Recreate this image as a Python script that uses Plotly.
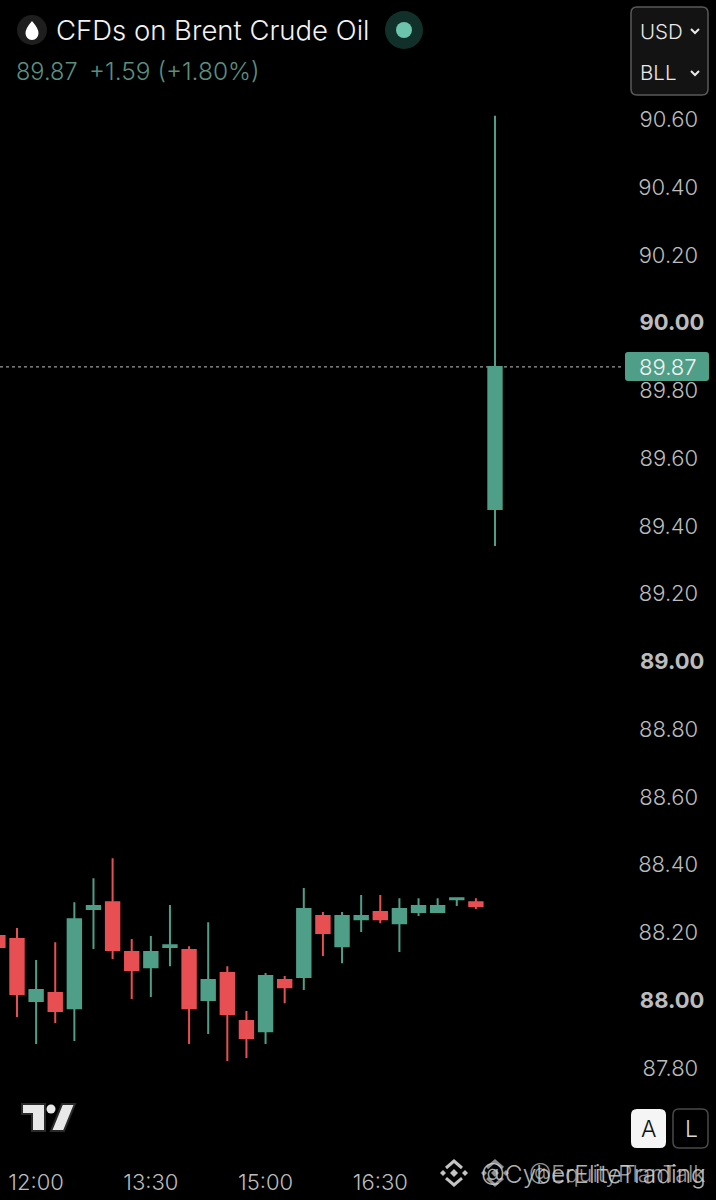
import plotly.graph_objects as go

# 15 minute candles
times = ["11:30", "11:45", "12:00", "12:15", "12:30", "12:45", "13:00", "13:15", "13:30",
         "13:45", "14:00", "14:15", "14:30", "14:45", "15:00", "15:15", "15:30", "15:45",
         "16:00", "16:15", "16:30", "16:45", "17:00", "17:15", "17:30", "17:45", "18:00"]
opens = [88.189, 88.180, 87.997, 88.021, 87.976, 88.269, 88.289, 88.142, 88.097,
         88.157, 88.148, 88.000, 88.080, 87.938, 87.908, 88.059, 88.068, 88.248,
         88.159, 88.239, 88.260, 88.227, 88.260, 88.260, 88.298, 88.289, 89.450]
highs = [88.200, 88.213, 88.118, 88.171, 88.289, 88.360, 88.419, 88.180, 88.189,
         88.281, 88.159, 88.230, 88.100, 87.968, 88.080, 88.071, 88.331, 88.260,
         88.260, 88.310, 88.310, 88.301, 88.301, 88.301, 88.301, 88.301, 90.611]
lows = [88.100, 87.950, 87.870, 87.932, 87.879, 88.151, 88.121, 88.003, 88.009,
        88.100, 87.870, 87.900, 87.820, 87.829, 87.870, 87.991, 88.030, 88.130,
        88.109, 88.201, 88.227, 88.142, 88.248, 88.260, 88.278, 88.269, 89.341]
closes = [88.157, 88.018, 88.030, 87.968, 88.239, 88.278, 88.148, 88.089, 88.142,
          88.162, 87.976, 88.059, 87.959, 87.888, 88.071, 88.038, 88.269, 88.198,
          88.248, 88.248, 88.239, 88.269, 88.278, 88.278, 88.301, 88.278, 89.869]

last_price = 89.87
y_ticks = [87.8, 88.0, 88.2, 88.4, 88.6, 88.8, 89.0, 89.2, 89.4, 89.6, 89.8, 90.0, 90.2, 90.4, 90.6]
y_labels = ["87.80", "<b>88.00</b>", "88.20", "88.40", "88.60", "88.80", "<b>89.00</b>", "89.20",
            "89.40", "89.60", "89.80", "<b>90.00</b>", "90.20", "90.40", "90.60"]
x_ticks = ["12:00", "13:30", "15:00", "16:30"]

W, H = 716, 1200
GREEN = "#4f9f88"
RED = "#e84f52"
FONT = "Inter"
DAY = "2024-03-01 "


def fx(x):
    return x / W


def fy(y):
    return 1 - y / H


def path(points, close=True):
    d = "M" + " L".join(f"{fx(x):.5f},{fy(y):.5f}" for x, y in points)
    return d + (" Z" if close else "")


def round_rect(x0, y0, x1, y1, r):
    # rounded box in pixels of the page
    def p(x, y):
        return f"{fx(x):.5f},{fy(y):.5f}"
    return (f"M{p(x0 + r, y0)} L{p(x1 - r, y0)} Q{p(x1, y0)} {p(x1, y0 + r)} "
            f"L{p(x1, y1 - r)} Q{p(x1, y1)} {p(x1 - r, y1)} L{p(x0 + r, y1)} "
            f"Q{p(x0, y1)} {p(x0, y1 - r)} L{p(x0, y0 + r)} Q{p(x0, y0)} {p(x0 + r, y0)} Z")


def shape_path(d, fill="rgba(0,0,0,0)", line="rgba(0,0,0,0)", width=0):
    return dict(type="path", xref="paper", yref="paper", path=d, fillcolor=fill,
                line=dict(color=line, width=width), layer="above")


def circle(cx, cy, r, fill):
    return dict(type="circle", xref="paper", yref="paper", x0=fx(cx - r), x1=fx(cx + r),
                y0=fy(cy + r), y1=fy(cy - r), fillcolor=fill, line=dict(width=0), layer="above")


def text(x, y, s, size, color, anchor="left"):
    return dict(xref="paper", yref="paper", x=fx(x), y=fy(y), text=s, showarrow=False,
                xanchor=anchor, yanchor="middle",
                font=dict(family=FONT, size=size, color=color, weight=300))


def diamond(cx, cy, r, fill):
    return shape_path(path([(cx, cy - r), (cx + r, cy), (cx, cy + r), (cx - r, cy)]), fill=fill)


def binance_icon(cx, cy, color):
    return [
        diamond(cx, cy, 4, color),
        diamond(cx - 11, cy, 3, color),
        diamond(cx + 11, cy, 3, color),
        shape_path(path([(cx - 8, cy - 5), (cx, cy - 12), (cx + 8, cy - 5)], close=False), line=color, width=3),
        shape_path(path([(cx - 8, cy + 5), (cx, cy + 12), (cx + 8, cy + 5)], close=False), line=color, width=3),
    ]


fig = go.Figure(go.Candlestick(
    x=[DAY + t for t in times], open=opens, high=highs, low=lows, close=closes,
    increasing=dict(line=dict(color=GREEN, width=2), fillcolor=GREEN),
    decreasing=dict(line=dict(color=RED, width=2), fillcolor=RED),
    hoverinfo="skip",
))

shapes = [
    # last price line and its label
    dict(type="line", xref="paper", yref="y", x0=0, x1=fx(624), y0=last_price, y1=last_price,
         line=dict(color="#9a9a9a", width=1.2, dash="dot"), layer="below"),
    shape_path(round_rect(625, 352, 709, 381, 3), fill=GREEN),
    # header icons
    circle(32, 30, 15, "#1e1e1e"),
    shape_path(f"M{fx(32):.5f},{fy(21):.5f} Q{fx(39):.5f},{fy(29):.5f} {fx(38.5):.5f},{fy(33.5):.5f} "
               f"Q{fx(38):.5f},{fy(39.5):.5f} {fx(32):.5f},{fy(40):.5f} "
               f"Q{fx(26):.5f},{fy(39.5):.5f} {fx(25.5):.5f},{fy(33.5):.5f} "
               f"Q{fx(25):.5f},{fy(29):.5f} {fx(32):.5f},{fy(21):.5f} Z", fill="#ffffff"),
    circle(404, 30, 19, "#12302a"),
    circle(404, 30, 8, "#6cc4ad"),
    # currency and unit box
    shape_path(round_rect(631, 7, 708, 95, 6), fill="#131313", line="#5a5a5a", width=1.5),
    shape_path(path([(691, 29), (695, 33), (699, 29)], close=False), line="#e8e8e8", width=2),
    shape_path(path([(691, 71), (695, 75), (699, 71)], close=False), line="#e8e8e8", width=2),
    # tradingview logo
    shape_path(path([(22, 1104), (45, 1104), (45, 1131), (32, 1131), (32, 1114), (22, 1114)]),
               fill="#e8e8e8", line="#2a2a2a", width=2),
    shape_path(path([(62, 1104), (75, 1104), (64, 1131), (51, 1131)]),
               fill="#e8e8e8", line="#2a2a2a", width=2),
    circle(51, 1109, 4.5, "#e8e8e8"),
    # auto and log buttons
    shape_path(round_rect(631, 1109, 666, 1148, 6), fill="#f5f5f5"),
    shape_path(round_rect(673, 1109, 708, 1148, 6), fill="#000000", line="#4a4a4a", width=1.5),
]
# two watermarks sit on top of each other in the reference
shapes += binance_icon(454, 1173, "#c4c4c4")
shapes += binance_icon(495, 1173, "#8f8f8f")

annotations = [
    text(54, 30, "CFDs on Brent Crude Oil", 27.5, "#f2f2f2"),
    text(14, 71, "89.87", 23.5, "#5b8f7e"),
    text(87, 71, "+1.59 (+1.80%)", 24.5, "#5b8f7e"),
    text(638, 31, "USD", 20.5, "#e8e8e8"),
    text(638, 73, "BLL", 20.5, "#e8e8e8"),
    text(699, 367, "89.87", 22, "#f2f2f2", anchor="right"),
    text(649, 1129, "A", 23, "#111111", anchor="center"),
    text(691, 1129, "L", 23, "#d8d8d8", anchor="center"),
    text(708, 1174, "@CyberEliteTrading", 24.5, "rgba(210,210,210,0.85)", anchor="right"),
    text(708, 1174, "@EquityPlanTalk", 23, "rgba(210,210,210,0.7)", anchor="right"),
]

fig.update_layout(
    width=W, height=H,
    margin=dict(l=0, r=0, t=0, b=0),
    paper_bgcolor="#000000",
    plot_bgcolor="#000000",
    showlegend=False,
    boxgap=0.3,
    boxgroupgap=0,
    shapes=shapes,
    annotations=annotations,
    font=dict(family=FONT, color="#bcbcbc"),
)
fig.update_xaxes(
    type="date",
    range=[DAY + "11:31:40", DAY + "20:53:22"],
    rangeslider=dict(visible=False),
    tickvals=[DAY + t for t in x_ticks],
    ticktext=x_ticks,
    showgrid=False, zeroline=False, showline=False,
    ticks="", ticklabelstandoff=3,
    tickfont=dict(size=22, color="#bcbcbc", weight=300),
)
# the bold labels run further right than the plain ones
fig.update_yaxes(
    domain=[36 / H, 1],
    range=[87.516, 90.953],
    side="right",
    tickvals=y_ticks,
    ticktext=[s if s.startswith("<b>") else s + "&nbsp;" for s in y_labels],
    ticklabelposition="inside",
    ticks="inside", ticklen=13, tickcolor="rgba(0,0,0,0)",
    showgrid=False, zeroline=False, showline=False,
    tickfont=dict(size=22, color="#bcbcbc", weight=300),
)

fig.write_html("out.html", config=dict(displayModeBar=False),
               post_script="document.body.style.margin='0';document.body.style.background='#000';")
